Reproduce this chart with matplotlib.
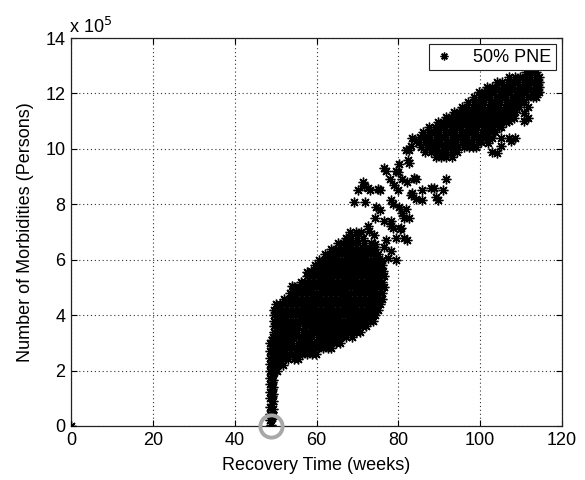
import matplotlib
matplotlib.use('Agg')
import matplotlib.pyplot as plt

plt.rcParams['font.family'] = ['Liberation Sans', 'DejaVu Sans']

# y values are in units of 10^5 persons
origin_x = [0.0]
origin_y = [0.0]

column_x = [49.0, 48.7, 49.05, 49.4, 48.7, 49.05, 49.4, 48.7, 49.05, 49.4, 48.7, 49.05, 49.4,
            48.7, 49.05, 49.4, 48.7, 49.05, 49.4, 48.7, 49.05, 49.4, 48.7, 49.05, 49.4,
            48.7, 49.05, 49.4, 48.7, 49.05, 49.4, 48.7, 49.05, 49.4, 48.7, 49.05, 49.4]
column_y = [0.05, 0.2, 0.28, 0.36, 0.44, 0.52, 0.6, 0.7, 0.8, 0.9, 1.0, 1.08, 1.16,
            1.24, 1.32, 1.4, 1.5, 1.58, 1.66, 1.74, 1.82, 1.9, 1.98, 2.06, 2.14,
            2.22, 2.3, 2.38, 2.46, 2.54, 2.62, 2.7, 2.8, 2.9, 3.0, 3.1, 3.2]

lower_rows_y = [2.0, 2.2, 2.4, 2.6, 2.8, 3.0, 3.2, 3.4, 3.6, 3.8, 4.0, 4.2, 4.4, 4.6,
                4.8, 5.0, 5.2, 5.4, 5.6, 5.8, 6.0, 6.2, 6.4, 6.6, 6.8, 7.0]
lower_rows_x = [
    [49.6, 50.4],
    [49.5, 50.6, 51.7],
    [49.6, 50.8, 51.9, 53.1, 54.4, 55.6],
    [49.5, 50.5, 51.8, 52.9, 54.0, 55.3, 56.5, 57.6, 58.9, 59.8],
    [49.7, 50.9, 52.0, 53.2, 54.5, 55.6, 56.8, 58.0, 59.1, 60.4, 61.5, 62.7, 63.6],
    [49.5, 50.6, 51.8, 53.0, 54.1, 55.4, 56.5, 57.7, 58.8, 60.1, 61.2, 62.4, 63.5, 64.7, 65.8],
    [49.6, 50.8, 52.0, 53.1, 54.3, 55.5, 56.8, 57.9, 59.0, 60.3, 61.4, 62.6, 63.8, 64.9, 66.1, 67.3, 68.6],
    [49.5, 50.7, 51.9, 53.0, 54.2, 55.3, 56.6, 57.8, 59.0, 60.1, 61.3, 62.5, 63.7, 64.8, 66.0, 67.2, 68.4, 69.6, 70.7],
    [49.7, 50.9, 52.1, 53.3, 54.4, 55.6, 56.9, 58.1, 59.2, 60.4, 61.6, 62.8, 63.9, 65.1, 66.3, 67.5, 68.7, 69.8, 71.0, 72.2],
    [49.5, 50.6, 51.8, 53.0, 54.2, 55.4, 56.5, 57.7, 58.9, 60.0, 61.2, 62.4, 63.6, 64.7, 65.9, 67.1, 68.3, 69.5, 70.6, 71.8, 73.0, 73.9],
    [49.6, 50.8, 52.0, 53.1, 54.3, 55.5, 56.7, 57.9, 59.1, 60.2, 61.4, 62.6, 63.8, 65.0, 66.1, 67.3, 68.5, 69.7, 70.9, 72.0, 73.2, 74.3],
    [49.5, 50.7, 51.9, 53.0, 54.2, 55.4, 56.6, 57.8, 58.9, 60.1, 61.3, 62.5, 63.6, 64.8, 66.0, 67.2, 68.4, 69.5, 70.7, 71.9, 73.1, 74.2, 75.0],
    [50.1, 51.2, 52.4, 53.6, 54.8, 55.9, 57.1, 58.3, 59.5, 60.7, 61.8, 63.0, 64.2, 65.4, 66.6, 67.7, 68.9, 70.1, 71.3, 72.5, 73.6, 74.8, 75.6],
    [52.0, 53.2, 54.4, 55.5, 56.7, 57.9, 59.1, 60.3, 61.4, 62.6, 63.8, 65.0, 66.2, 67.3, 68.5, 69.7, 70.9, 72.1, 73.2, 74.4, 75.6, 76.1],
    [53.6, 54.8, 56.0, 57.1, 58.3, 59.5, 60.7, 61.9, 63.0, 64.2, 65.4, 66.6, 67.8, 68.9, 70.1, 71.3, 72.5, 73.7, 74.8, 76.0],
    [54.6, 55.8, 57.0, 58.2, 59.3, 60.5, 61.7, 62.9, 64.1, 65.2, 66.4, 67.6, 68.8, 70.0, 71.1, 72.3, 73.5, 74.7, 75.9, 76.6],
    [56.1, 57.3, 58.4, 59.6, 60.8, 62.0, 63.2, 64.3, 65.5, 66.7, 67.9, 69.1, 70.2, 71.4, 72.6, 73.8, 75.0, 76.1],
    [57.6, 58.8, 60.0, 61.1, 62.3, 63.5, 64.7, 65.9, 67.0, 68.2, 69.4, 70.6, 71.8, 72.9, 74.1, 75.3, 76.5],
    [58.6, 59.8, 61.0, 62.2, 63.3, 64.5, 65.7, 66.9, 68.1, 69.2, 70.4, 71.6, 72.8, 74.0, 75.1, 76.3],
    [59.6, 60.8, 62.0, 63.1, 64.3, 65.5, 66.7, 67.9, 69.0, 70.2, 71.4, 72.6, 73.8, 74.9, 76.1],
    [60.7, 61.9, 63.1, 64.2, 65.4, 66.6, 67.8, 69.0, 70.1, 71.3, 72.5, 73.7, 74.9, 75.9],
    [62.1, 63.3, 64.5, 65.6, 66.8, 68.0, 69.2, 70.4, 71.5, 72.7, 73.9, 75.1],
    [63.6, 64.8, 66.0, 67.1, 68.3, 69.5, 70.7, 71.9, 73.0, 74.4],
    [65.2, 66.4, 67.7, 68.9, 70.2, 71.6, 73.2],
    [67.2, 68.5, 69.8, 71.3],
    [68.3, 69.6, 70.9],
]

sparse_x = [57.6, 54.0, 69.2, 71.9, 70.2, 71.7, 73.1, 75.4, 77.1, 77.9, 80.0, 79.8, 82.5, 82.7,
            84.2, 82.0, 84.2, 83.3, 84.2, 89.8, 90.8, 91.7, 88.7, 75.6, 78.8, 80.8, 82.5, 80.5,
            82.0, 79.5, 78.3, 76.6, 72.5, 74.1, 67.6, 76.6, 77.5, 78.3, 79.5,
            76.6, 79.4, 80.2, 82.3, 83.0, 83.4, 81.9, 71.3, 72.6, 75.0, 74.5, 78.2, 79.0,
            81.0, 83.1, 83.9, 85.9, 85.9, 89.2, 88.0, 80.2, 81.9, 81.5, 78.2, 74.2, 72.9,
            78.6, 80.7, 81.5, 77.0, 74.2]
sparse_y = [5.55, 5.05, 8.1, 8.07, 8.5, 8.65, 8.5, 8.5, 9.2, 8.9, 9.15, 8.5, 9.5, 9.95,
            10.3, 8.8, 8.9, 8.4, 8.2, 8.15, 8.5, 8.9, 8.6, 7.8, 8.0, 7.7, 7.5, 7.1,
            6.7, 6.8, 7.2, 7.4, 7.2, 6.9, 6.75, 6.45, 6.05, 6.3, 6.0,
            9.3, 9.2, 9.45, 9.6, 10.1, 10.4, 9.95, 8.8, 8.6, 8.55, 7.9, 8.15, 8.7,
            8.9, 8.35, 8.95, 8.5, 8.15, 8.27, 8.6, 7.9, 7.84, 7.52, 7.4, 7.52, 7.04,
            7.16, 7.16, 6.8, 6.7, 6.57]

upper_rows_y = [9.70, 9.88, 10.06, 10.24, 10.42, 10.60, 10.78, 10.96, 11.14, 11.32,
                11.50, 11.68, 11.86, 12.04, 12.22, 12.40, 12.58, 12.76]
upper_rows_x = [
    [89.2, 90.5, 91.7, 93.0],
    [86.6, 87.9, 89.1, 90.4, 91.7, 93.0, 94.3],
    [85.6, 86.9, 88.2, 89.5, 90.8, 92.1, 93.4, 94.7, 96.0, 97.3, 98.2],
    [85.1, 86.4, 87.7, 89.0, 90.3, 91.6, 92.9, 94.2, 95.5, 96.8, 98.1, 99.4, 100.2],
    [85.2, 86.5, 87.8, 89.1, 90.4, 91.7, 93.0, 94.3, 95.6, 96.9, 98.2, 99.5, 100.8, 101.6],
    [86.1, 87.4, 88.7, 90.0, 91.3, 92.6, 93.9, 95.2, 96.5, 97.8, 99.1, 100.4, 101.7, 103.0, 103.7],
    [87.6, 88.9, 90.2, 91.5, 92.8, 94.1, 95.4, 96.7, 98.0, 99.3, 100.6, 101.9, 103.2, 104.5, 105.1],
    [89.6, 90.9, 92.2, 93.5, 94.8, 96.1, 97.4, 98.7, 100.0, 101.3, 102.6, 103.9, 105.2, 106.4],
    [91.6, 92.9, 94.2, 95.5, 96.8, 98.1, 99.4, 100.7, 102.0, 103.3, 104.6, 105.9, 107.2],
    [93.6, 94.9, 96.2, 97.5, 98.8, 100.1, 101.4, 102.7, 104.0, 105.3, 106.6, 107.9, 108.5],
    [95.6, 96.9, 98.2, 99.5, 100.8, 102.1, 103.4, 104.7, 106.0, 107.3, 108.6, 109.4],
    [97.1, 98.4, 99.7, 101.0, 102.3, 103.6, 104.9, 106.2, 107.5, 108.8, 110.1, 110.8],
    [98.6, 99.9, 101.2, 102.5, 103.8, 105.1, 106.4, 107.7, 109.0, 110.3, 111.6, 112.9, 113.6],
    [99.6, 100.9, 102.2, 103.5, 104.8, 106.1, 107.4, 108.7, 110.0, 111.3, 112.6, 113.9, 114.5],
    [101.6, 102.9, 104.2, 105.5, 106.8, 108.1, 109.4, 110.7, 112.0, 113.3, 114.5],
    [104.1, 105.4, 106.7, 108.0, 109.3, 110.6, 111.9, 113.2, 114.4],
    [107.1, 108.4, 109.7, 111.0, 112.3, 113.6, 114.4],
    [111.1, 112.4, 113.7],
]

outlier_x = [104.0, 105.0, 107.5, 108.4, 111.6, 111.6, 108.3, 102.0, 99.1, 103.0, 105.0,
             107.0, 103.0, 107.0, 107.0, 110.7, 110.7, 107.0]
outlier_y = [9.85, 10.1, 10.3, 10.4, 11.1, 11.5, 11.1, 10.2, 10.05, 10.4, 10.4,
             10.4, 9.9, 11.0, 11.3, 11.0, 11.3, 11.5]

highlight_x = [49.0]
highlight_y = [0.0]

x_ticks = [0, 20, 40, 60, 80, 100, 120]
y_ticks = [0, 2, 4, 6, 8, 10, 12, 14]

# assemble all points
all_x = list(origin_x) + list(column_x)
all_y = list(origin_y) + list(column_y)
for yv, row in zip(lower_rows_y, lower_rows_x):
    all_x += row
    all_y += [yv] * len(row)
all_x += sparse_x
all_y += sparse_y
for yv, row in zip(upper_rows_y, upper_rows_x):
    all_x += row
    all_y += [yv] * len(row)
all_x += outlier_x
all_y += outlier_y

fig = plt.figure(figsize=(5.85, 4.8), dpi=100)
ax = fig.add_axes([71 / 585, 1 - 426 / 480, (562 - 71) / 585, (426 - 38) / 480])

ax.plot(all_x, all_y, linestyle='none', marker=(8, 2, 0), markersize=7,
        markeredgewidth=1.0, color='black', label='50% PNE', zorder=3)
ax.plot(highlight_x, highlight_y, linestyle='none', marker='o', markersize=16,
        markerfacecolor='none', markeredgecolor='#a8a8a8', markeredgewidth=2.8,
        clip_on=False, zorder=6)

ax.set_xlim(0, 120)
ax.set_ylim(0, 14)
ax.set_xticks(x_ticks)
ax.set_yticks(y_ticks)
ax.grid(True, linestyle=(0, (1, 2.5)), color='#333333', linewidth=0.8)
ax.tick_params(direction='in', top=True, right=True, length=4, labelsize=13,
               colors='black', pad=4)
for sp in ax.spines.values():
    sp.set_linewidth(0.9)
    sp.set_color('#222222')

ax.set_xlabel('Recovery Time (weeks)', fontsize=13, labelpad=6)
ax.set_ylabel('Number of Morbidities (Persons)', fontsize=13, labelpad=8)
ax.text(-0.005, 1.013, r'x 10$^{5}$', transform=ax.transAxes, fontsize=13,
        va='baseline', ha='left')

leg = ax.legend(loc='upper right', fontsize=13, fancybox=False, framealpha=1,
                edgecolor='#222222', borderaxespad=0.35, handlelength=1.2,
                handletextpad=1.0, borderpad=0.25, markerscale=0.8)
leg.get_frame().set_linewidth(0.8)

fig.savefig('out.png', dpi=100)
